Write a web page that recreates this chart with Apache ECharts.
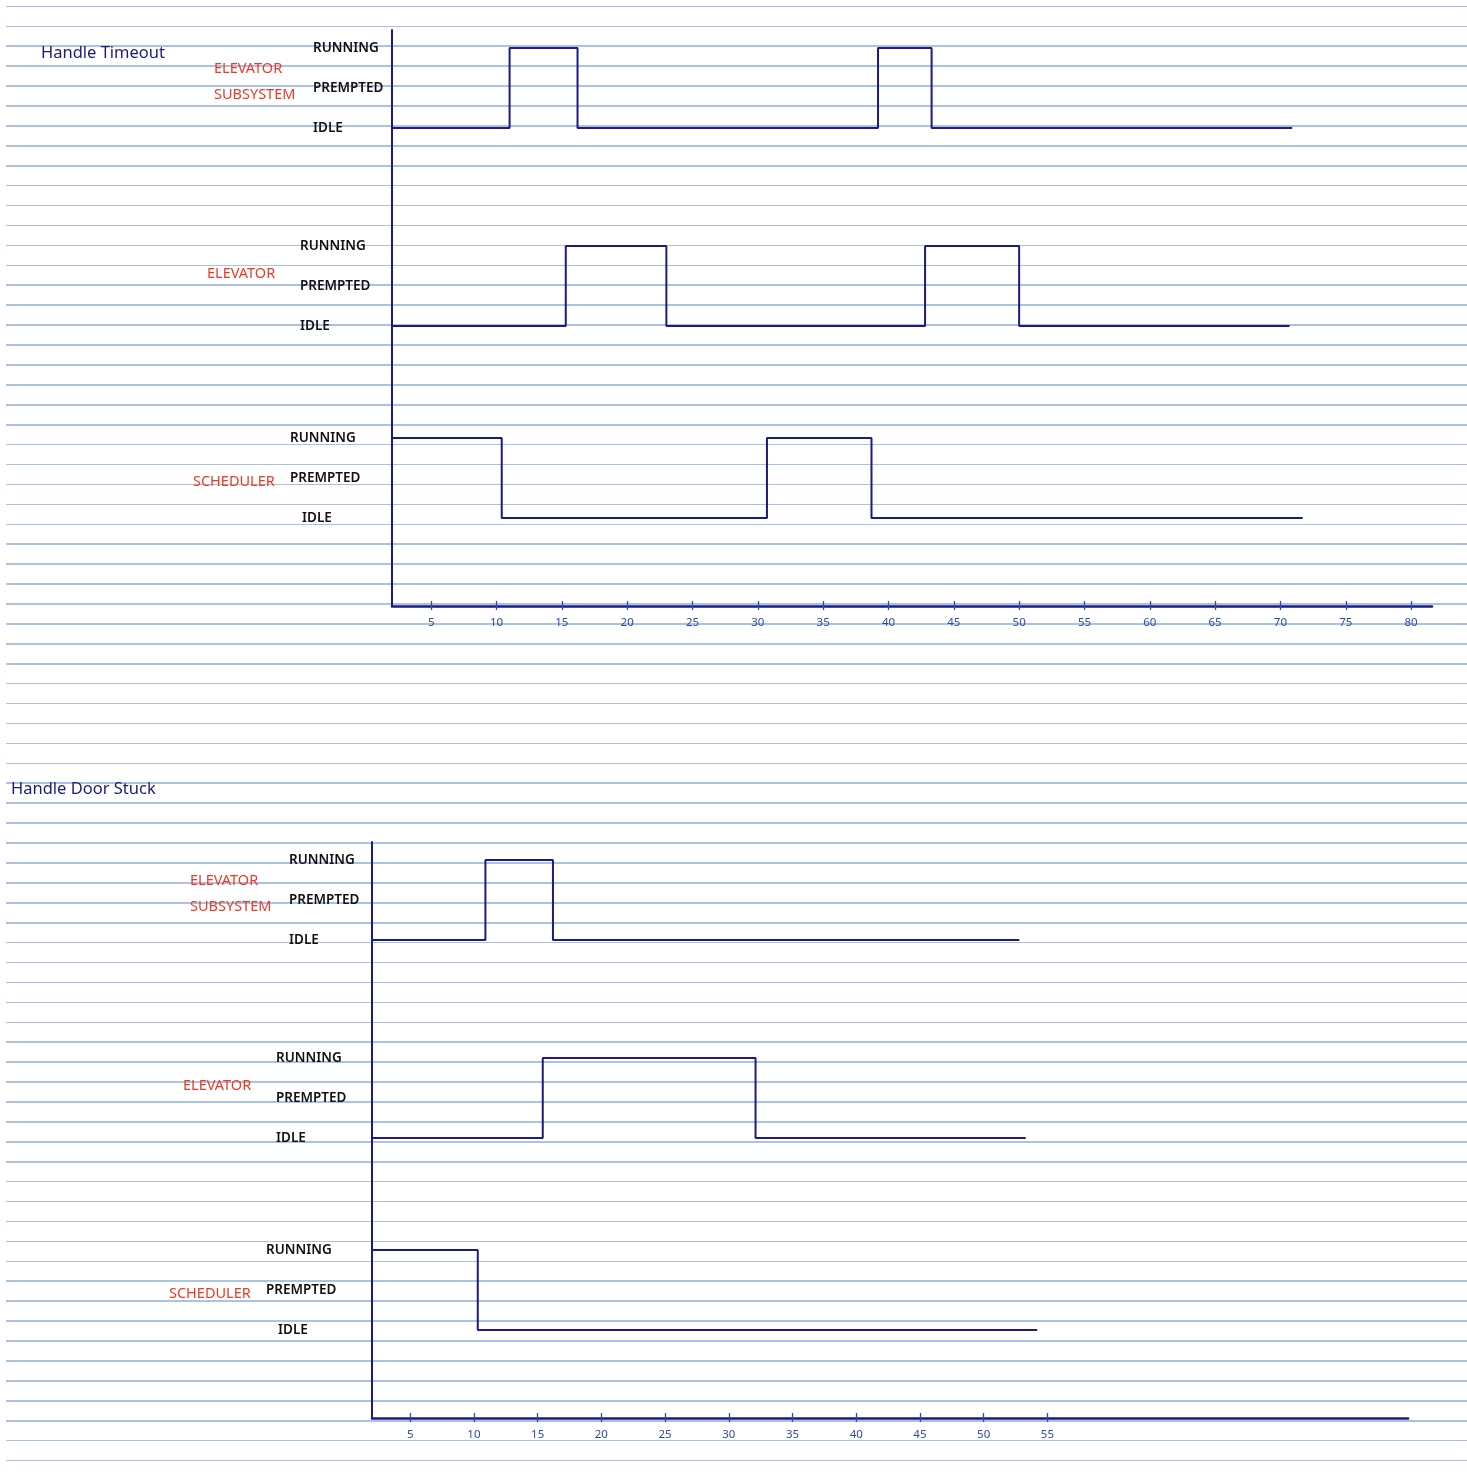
<!DOCTYPE html>
<html>
<head>
<meta charset="utf-8">
<script src="https://cdn.jsdelivr.net/npm/echarts@6/dist/echarts.min.js"></script>
<style>
  html, body { margin: 0; padding: 0; background: #ffffff; }
  #paper {
    position: absolute; left: 6px; top: 0; width: 1461px; height: 1473px;
    background-image: repeating-linear-gradient(180deg,
      rgba(0,0,0,0) 0px, rgba(0,0,0,0) 5.6px,
      #adc1e3 5.6px, #adc1e3 7.2px,
      rgba(0,0,0,0) 7.2px, rgba(0,0,0,0) 19.92px);
  }
  #chart { position: absolute; left: 0; top: 0; width: 1467px; height: 1473px; }
</style>
</head>
<body>
<div id="paper"></div>
<div id="chart"></div>
<script>
// ---------- data ----------
const STATES = ['IDLE', 'PREMPTED', 'RUNNING'];
const LANES = ['SCHEDULER', 'ELEVATOR', 'ELEVATOR\nSUBSYSTEM'];

const timeoutTitle = 'Handle Timeout';
const doorTitle = 'Handle Door Stuck';

const timeoutTicks = [5, 10, 15, 20, 25, 30, 35, 40, 45, 50, 55, 60, 65, 70, 75, 80];
const timeoutTickLabels = ['5', '10', '15', '20', '25', '30', '35', '40', '45', '50', '55', '60', '65', '70', '75', '80'];
const doorTicks = [5, 10, 15, 20, 25, 30, 35, 40, 45, 50, 55];
const doorTickLabels = ['5', '10', '15', '20', '25', '30', '35', '40', '45', '50', '55'];

// Handle Timeout
const toSubsystemTime  = [2, 11.0, 16.2, 39.2, 43.3, 70.9];
const toSubsystemState = ['IDLE', 'RUNNING', 'IDLE', 'RUNNING', 'IDLE', 'IDLE'];
const toElevatorTime   = [2, 15.3, 23.0, 42.8, 50.0, 70.7];
const toElevatorState  = ['IDLE', 'RUNNING', 'IDLE', 'RUNNING', 'IDLE', 'IDLE'];
const toSchedulerTime  = [2, 10.4, 30.7, 38.7, 71.7];
const toSchedulerState = ['RUNNING', 'IDLE', 'RUNNING', 'IDLE', 'IDLE'];

// Handle Door Stuck
const dsSubsystemTime  = [2, 10.9, 16.2, 52.8];
const dsSubsystemState = ['IDLE', 'RUNNING', 'IDLE', 'IDLE'];
const dsElevatorTime   = [2, 15.4, 32.1, 53.3];
const dsElevatorState  = ['IDLE', 'RUNNING', 'IDLE', 'IDLE'];
const dsSchedulerTime  = [2, 10.3, 54.2];
const dsSchedulerState = ['RUNNING', 'IDLE', 'IDLE'];

// ---------- layout / style ----------
const FONT = "'Noto Sans', 'DejaVu Sans', sans-serif";
const NAVY = '#1d1b80';
const TICKBLUE = '#2c4ab2';
const RED = '#ec3a25';
const LANE_BASE = [2.2, 7, 11.95];   // y offset of each lane (scheduler, elevator, subsystem)
const LANE_NAME_POS = [3.1, 8.3, 13.1];
const Y_MAX = 14.4;

function stateValue(lane, state) { return LANE_BASE[lane] + STATES.indexOf(state); }

function lineData(lane, times, states) {
  return times.map((t, i) => [t, stateValue(lane, states[i])]);
}

const stateValues = [];
LANE_BASE.forEach(b => STATES.forEach((s, i) => stateValues.push(+(b + i).toFixed(2))));

function stateFormatter(v) {
  for (let l = 0; l < LANE_BASE.length; l++) {
    for (let s = 0; s < STATES.length; s++) {
      if (Math.abs(LANE_BASE[l] + s - v) < 0.01) {
        const key = (l === 0 && s === 0) ? 'li' : ('l' + l);
        return '{' + key + '|' + STATES[s] + '}';
      }
    }
  }
  return '';
}
function laneFormatter(v) {
  for (let l = 0; l < LANE_NAME_POS.length; l++) {
    if (Math.abs(LANE_NAME_POS[l] - v) < 0.01) {
      return LANES[l].split('\n').map(p => '{n' + l + '|' + p + '}').join('\n');
    }
  }
  return '';
}

const stateRich = {
  l0: { padding: [0, 0, 0, 0] },
  li: { padding: [0, 0, 0, 12] },
  l1: { padding: [0, 0, 0, 10] },
  l2: { padding: [0, 0, 0, 23] }
};
const laneRich = {
  n0: { padding: [0, 0, 0, 0], lineHeight: 26 },
  n1: { padding: [0, 0, 0, 14], lineHeight: 26 },
  n2: { padding: [0, 0, 0, 21], lineHeight: 26 }
};

function mainX(grid, max, ticks, tickLabels) {
  return {
    type: 'value', gridIndex: grid, min: 2, max: max, position: 'bottom',
    axisLine: { show: true, onZero: false, lineStyle: { color: NAVY, width: 2.5 } },
    axisTick: { show: true, length: 4, customValues: ticks, lineStyle: { color: TICKBLUE, width: 1.3 } },
    axisLabel: {
      show: true, customValues: ticks, margin: 11,
      formatter: v => tickLabels[ticks.indexOf(v)] ?? '',
      color: TICKBLUE, fontSize: 11.5, fontFamily: FONT
    },
    splitLine: { show: false }
  };
}
function overlayX(grid, max, ticks) {
  return {
    type: 'value', gridIndex: grid, min: 2, max: max, position: 'bottom',
    axisLine: { show: false, onZero: false },
    axisTick: { show: true, inside: true, length: 5, customValues: ticks, lineStyle: { color: TICKBLUE, width: 1.3 } },
    axisLabel: { show: false },
    splitLine: { show: false }
  };
}
function stateY(grid, margin) {
  return {
    type: 'value', gridIndex: grid, min: 0, max: Y_MAX, position: 'left',
    axisLine: { show: true, onZero: false, lineStyle: { color: NAVY, width: 2 } },
    axisTick: { show: false },
    axisLabel: {
      show: true, customValues: stateValues, formatter: stateFormatter,
      align: 'left', margin: margin, color: '#111111', fontSize: 13.5, fontWeight: 600,
      fontFamily: FONT, rich: stateRich
    },
    splitLine: { show: false }
  };
}
function laneY(grid, margin) {
  return {
    type: 'value', gridIndex: grid, min: 0, max: Y_MAX, position: 'left',
    axisLine: { show: false },
    axisTick: { show: false },
    axisLabel: {
      show: true, customValues: LANE_NAME_POS, formatter: laneFormatter,
      align: 'left', margin: margin, color: RED, fontSize: 14.5, fontFamily: FONT, rich: laneRich
    },
    splitLine: { show: false }
  };
}
function stepSeries(xi, yi, data) {
  return {
    type: 'line', step: 'end', xAxisIndex: xi, yAxisIndex: yi, data: data,
    symbol: 'none', lineStyle: { color: NAVY, width: 2 }, silent: true
  };
}

const chart = echarts.init(document.getElementById('chart'), null, { renderer: 'canvas' });
chart.setOption({
  animation: false,
  backgroundColor: 'transparent',
  title: [
    { text: timeoutTitle, left: 36, top: 40, textStyle: { color: NAVY, fontSize: 16.5, fontWeight: 'normal', fontFamily: FONT } },
    { text: doorTitle, left: 6, top: 776, textStyle: { color: NAVY, fontSize: 16.5, fontWeight: 'normal', fontFamily: FONT } }
  ],
  grid: [
    { left: 392, top: 30, width: 1040, height: 576, outerBoundsMode: 'none' },
    { left: 372, top: 842, width: 1036, height: 576, outerBoundsMode: 'none' }
  ],
  xAxis: [
    mainX(0, 81.6, timeoutTicks, timeoutTickLabels),
    overlayX(0, 81.6, timeoutTicks),
    mainX(1, 83.3, doorTicks, doorTickLabels),
    overlayX(1, 83.3, doorTicks)
  ],
  yAxis: [
    stateY(0, 102),
    laneY(0, 199),
    stateY(1, 106),
    laneY(1, 203)
  ],
  series: [
    stepSeries(0, 0, lineData(2, toSubsystemTime, toSubsystemState)),
    stepSeries(0, 0, lineData(1, toElevatorTime, toElevatorState)),
    stepSeries(0, 0, lineData(0, toSchedulerTime, toSchedulerState)),
    stepSeries(2, 2, lineData(2, dsSubsystemTime, dsSubsystemState)),
    stepSeries(2, 2, lineData(1, dsElevatorTime, dsElevatorState)),
    stepSeries(2, 2, lineData(0, dsSchedulerTime, dsSchedulerState))
  ]
});
</script>
</body>
</html>
